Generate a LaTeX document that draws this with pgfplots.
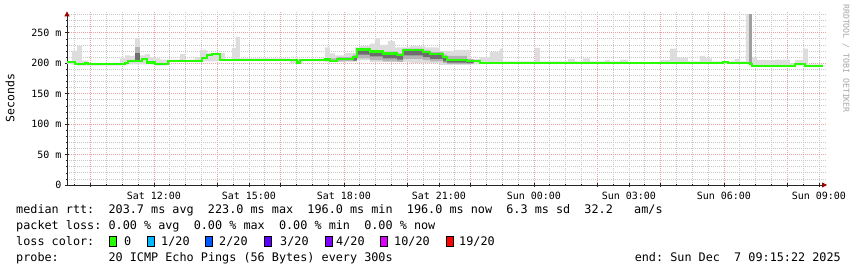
\documentclass[border=0pt]{standalone}
\usepackage{fontspec}
\setmainfont{DejaVu Sans Mono}
\usepackage{pgfplots}
\pgfplotsset{compat=1.18}
\usepackage{pgfplotstable}
\usetikzlibrary{arrows.meta}
\definecolor{medgreen}{HTML}{26FF00}
\definecolor{smokeA}{HTML}{DDDDDD}
\definecolor{smokeB}{HTML}{B4B4B4}
\definecolor{smokeC}{HTML}{6E6E6E}
\definecolor{l1}{HTML}{00B8FF}
\definecolor{l2}{HTML}{0059FF}
\definecolor{l3}{HTML}{5E00FF}
\definecolor{l4}{HTML}{7E00FF}
\definecolor{l10}{HTML}{DD00FF}
\definecolor{l19}{HTML}{FF0000}
\definecolor{gridmaj}{HTML}{F0A0A0}
\definecolor{gridmin}{HTML}{C8C8C8}

% median rtt (ms), step held from x to next x; x in hours since Sat 00:00
\pgfplotstableread{
x y
9.256 202
9.51 198
9.82 200
9.92 198.5
11.09 200
11.18 204
11.62 206.5
11.78 201
12.03 198
12.45 204
13.52 208
13.68 213
13.84 215
14.09 205.5
16.52 201
16.61 205.5
17.40 206
17.56 204
17.78 206.5
18.29 210
18.41 222.5
18.82 219
19.23 216
19.68 213.5
19.87 221.5
20.50 218
20.72 215
21.13 210
21.26 205
21.89 203
22.30 200.5
29.97 202.5
30.13 200.5
30.82 198
30.89 196
32.24 198.5
32.56 196
33.13 196
}\median

% light smoke: upper envelope forward, then lower envelope backward
\pgfplotstableread{
x y
9.256 203
9.414 220
9.572 229
9.730 204
9.919 200
10.930 208
11.088 213
11.245 212
11.403 241
11.561 213
11.719 215
11.877 210
12.035 208
12.193 206
12.414 206
12.824 215
12.982 206
13.298 210
13.456 222
13.677 217
14.245 207
14.466 225
14.592 243
14.719 208
16.298 207
17.403 226
17.561 216
17.719 213
18.034 217
18.350 226
18.508 228
18.824 232
18.981 241
19.139 230
19.392 236
19.613 226
20.087 228
20.560 226
21.034 220
21.508 222
21.982 207
22.297 210
22.613 218
22.929 224
23.023 203
24.034 225
24.192 203
25.076 207
25.297 203
25.549 208
25.770 203
26.244 205
26.402 203
26.717 206
26.970 202
27.980 205
28.296 224
28.517 209
28.864 203
29.243 212
29.401 208
29.622 203
30.348 207
30.506 203
30.696 280
30.885 210
31.043 205
31.612 206
32.085 200
32.243 205
32.496 224
32.654 198
33.130 198
33.130 194
32.654 196
32.243 194
30.885 199
30.696 199
22.297 198
21.982 197
21.034 200
20.087 202
18.824 205
18.350 203
18.034 202
17.403 203
16.70 199.5
16.298 204
14.0 203
13.456 202
12.414 196
12.035 198
11.088 196
9.572 199
9.256 199
}\lightsmoke

% medium smoke band
\pgfplotstableread{
x y
17.56 208
17.78 210
18.29 214
18.41 224
18.82 221
19.23 219
19.68 216
19.87 224
20.50 221
20.72 218
21.13 214
21.26 212
21.89 207
22.10 207
22.10 199
21.89 199
21.26 200
21.13 203
20.72 205
20.50 207
19.87 202
19.68 203
19.23 205
18.82 208
18.41 203
18.29 203
17.56 203
}\medsmoke

% dark smoke band
\pgfplotstableread{
x y
18.29 209
18.41 222
18.82 219
19.23 216
19.68 213
19.87 221
20.50 218
20.72 215
21.13 210
21.26 205
21.89 203
22.10 203
22.10 200
21.89 201
21.26 203
21.13 207
20.72 210
20.50 213
19.87 206
19.68 208
19.23 211
18.82 214
18.41 204
18.29 204
}\darksmoke

\begin{document}
\begin{tikzpicture}
\useasboundingbox (0pt,0pt) rectangle (857pt,267pt);
\begin{axis}[
  at={(67pt,82pt)}, anchor=south west,
  scale only axis, width=760pt, height=173.6pt,
  xmin=9.256, xmax=33.256, ymin=0, ymax=285,
  axis lines=left,
  axis line style={black!85, line width=0.8pt, -{Triangle[length=5pt,width=5pt,color=red!60!black]}},
  xtick={10,12,...,32}, xticklabels={},
  minor xtick={9.5,10,...,33},
  extra x ticks={12,15,18,21,24,27,30,33},
  extra x tick labels={Sat 12:00,Sat 15:00,Sat 18:00,Sat 21:00,Sun 00:00,Sun 03:00,Sun 06:00,Sun 09:00},
  extra x tick style={grid=none},
  xticklabel style={yshift=-1.5pt},
  ytick={0,50,...,250},
  yticklabels={0,50 m,100 m,150 m,200 m,250 m},
  minor ytick={10,20,...,280},
  grid=both,
  major grid style={gridmaj, dash pattern=on 1pt off 1pt, line width=0.7pt},
  minor grid style={gridmin, dash pattern=on 1pt off 1pt, line width=0.7pt},
  tick align=center,
  major tick length=4pt, minor tick length=2pt,
  tick style={black!85, line width=0.6pt},
  ticklabel style={font=\fontsize{10}{12}\selectfont},
]
\addplot[const plot, fill=smokeA, draw=none] table[x=x,y=y] {\lightsmoke};
\addplot[const plot, fill=smokeB, draw=none] table[x=x,y=y] {\medsmoke};
\addplot[const plot, fill=smokeC, draw=none] table[x=x,y=y] {\darksmoke};
\addplot[fill=smokeB, draw=none] coordinates {(11.40,202) (11.56,202) (11.56,227) (11.40,227)};
\addplot[fill=smokeC, draw=none] coordinates {(11.40,204) (11.56,204) (11.56,216) (11.40,216)};
\addplot[fill=gray!75, draw=none] coordinates {(30.79,199) (30.885,199) (30.885,280) (30.79,280)};
\addplot[const plot, medgreen, line width=2.2pt] table[x=x,y=y] {\median};
\end{axis}
\node[rotate=90, font=\fontsize{11.5}{12}\selectfont] at (10pt,169pt) {Seconds};
\node[rotate=-90, anchor=west, text=black!35, font=\fontsize{8.2}{9}\selectfont, inner sep=0pt] at (846pt,263pt) {RRDTOOL / TOBI OETIKER};
\begin{scope}[every node/.style={anchor=base west, inner sep=0pt, font=\fontsize{11.8}{13}\selectfont}]
\node at (16pt,53pt) {median~rtt:~~203.7~ms~avg~~223.0~ms~max~~196.0~ms~min~~196.0~ms~now~~6.3~ms~sd~~32.2~~~am/s};
\node at (16pt,37pt) {packet~loss:~0.00~\%~avg~~0.00~\%~max~~0.00~\%~min~~0.00~\%~now};
\node at (16pt,21pt) {loss~color:};
\node at (124pt,21pt) {0};
\node at (161pt,21pt) {1/20};
\node at (219pt,21pt) {2/20};
\node at (280pt,21pt) {3/20};
\node at (336pt,21pt) {4/20};
\node at (394pt,21pt) {10/20};
\node at (459pt,21pt) {19/20};
\node at (16pt,5pt) {probe:~~~~~~~20~ICMP~Echo~Pings~(56~Bytes)~every~300s};
\node[anchor=base east] at (841pt,5pt) {end:~Sun~Dec~~7~09:15:22~2025};
\end{scope}
\begin{scope}[every node/.style={draw=black, line width=0.6pt, minimum width=7pt, minimum height=10pt, inner sep=0pt, anchor=south west}]
\node[fill=medgreen] at (109pt,20pt) {};
\node[fill=l1] at (147pt,20pt) {};
\node[fill=l2] at (205pt,20pt) {};
\node[fill=l3] at (264pt,20pt) {};
\node[fill=l4] at (325pt,20pt) {};
\node[fill=l10] at (380pt,20pt) {};
\node[fill=l19] at (446pt,20pt) {};
\end{scope}
\end{tikzpicture}
\end{document}
